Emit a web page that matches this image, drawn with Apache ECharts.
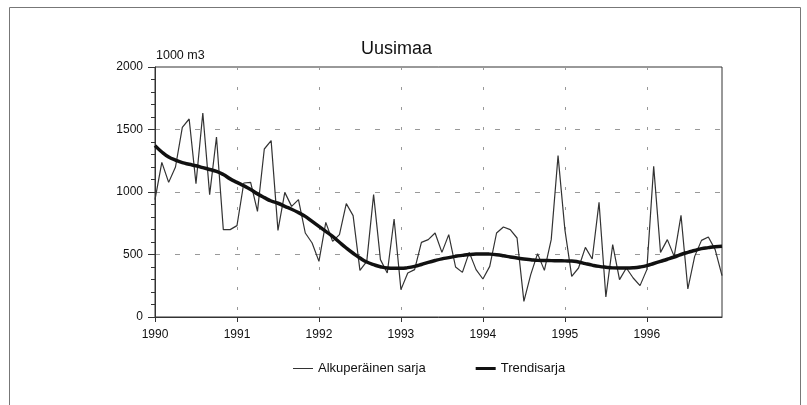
<!DOCTYPE html>
<html>
<head>
<meta charset="utf-8">
<script src="https://cdn.jsdelivr.net/npm/echarts@6/dist/echarts.min.js"></script>
<style>
  html, body { margin: 0; padding: 0; background: #fff; }
  #main { width: 807px; height: 405px; }
</style>
</head>
<body>
<div id="main"></div>
<script>
// vuodet ja kuukaudet
var years = ['1990', '1991', '1992', '1993', '1994', '1995', '1996'];
var months = ['01', '02', '03', '04', '05', '06', '07', '08', '09', '10', '11', '12'];

// Alkuperäinen sarja (1000 m3), kuukausittain 1990-1996
var original = [
  939, 1237, 1077, 1200, 1517, 1584, 1067, 1632, 979, 1440, 699, 699,
  731, 1072, 1077, 845, 1344, 1411, 693, 997, 885, 939, 672, 592,
  445, 757, 605, 659, 907, 811, 373, 445, 979, 459, 352, 784,
  219, 352, 379, 597, 619, 672, 517, 659, 400, 357, 517, 379,
  304, 405, 672, 720, 699, 632, 125, 339, 507, 373, 619, 1291,
  699, 325, 392, 557, 464, 917, 160, 579, 299, 392, 312, 251,
  379, 1205, 517, 619, 485, 813, 224, 485, 613, 640, 539, 331
];

// Trendisarja
var trend = [
  1371, 1320, 1280, 1255, 1235, 1222, 1210, 1195, 1180, 1165, 1140, 1105,
  1077, 1050, 1020, 985, 955, 928, 910, 885, 862, 835, 805, 765,
  725, 685, 645, 598, 552, 510, 472, 440, 419, 402, 392, 390,
  390, 395, 405, 420, 437, 452, 465, 475, 485, 493, 500, 504,
  505, 503, 498, 490, 480, 472, 464, 458, 453, 452, 451, 450,
  449, 448, 440, 427, 415, 405, 398, 393, 392, 392, 394, 400,
  411, 428, 445, 462, 480, 500, 517, 532, 547, 555, 562, 566
];

var categories = [];
years.forEach(function (y) {
  months.forEach(function (m) { categories.push(y + '-' + m); });
});

var font = 'Liberation Sans, Arial, sans-serif';
var chart = echarts.init(document.getElementById('main'), null, { renderer: 'canvas' });

chart.setOption({
  backgroundColor: '#fff',
  animation: false,
  title: {
    text: 'Uusimaa',
    left: 356,
    top: 35,
    textStyle: { fontFamily: font, fontSize: 18, fontWeight: 'normal', color: '#111' }
  },
  legend: {
    left: 288,
    top: 357,
    itemGap: 50,
    itemWidth: 20,
    itemHeight: 10,
    textStyle: { fontFamily: font, fontSize: 13, color: '#111' },
    data: [
      { name: 'Alkuperäinen sarja', icon: 'path://M0,4.5 L20,4.5 L20,5.5 L0,5.5 Z', itemStyle: { color: '#333' } },
      { name: 'Trendisarja', icon: 'path://M0,3.5 L20,3.5 L20,6.5 L0,6.5 Z', itemStyle: { color: '#111' } }
    ]
  },
  grid: {
    left: 155,
    right: 85,
    top: 67,
    bottom: 88,
    show: true,
    borderColor: '#333',
    borderWidth: 1
  },
  graphic: [
    {
      type: 'rect',
      silent: true,
      shape: { x: 9.5, y: 7.5, width: 791, height: 420 },
      style: { fill: 'none', stroke: '#777', lineWidth: 1 }
    }
  ],
  xAxis: {
    type: 'category',
    boundaryGap: false,
    data: categories,
    axisLine: { lineStyle: { color: '#333', width: 1 } },
    axisTick: { interval: 11, length: 5, lineStyle: { color: '#333' } },
    axisLabel: {
      interval: 11,
      margin: 12,
      fontFamily: font,
      fontSize: 12,
      color: '#111',
      formatter: function (v) { return v.slice(0, 4); }
    },
    splitLine: {
      show: true,
      interval: 11,
      lineStyle: { color: '#999', type: [3, 17], width: 1 }
    }
  },
  yAxis: {
    type: 'value',
    min: 0,
    max: 2000,
    interval: 500,
    name: '1000 m3',
    nameLocation: 'end',
    nameGap: 5,
    nameTextStyle: { fontFamily: font, fontSize: 12.5, color: '#111', align: 'left', padding: [0, 0, 0, 1] },
    axisLine: { show: true, lineStyle: { color: '#333', width: 1 } },
    axisTick: { show: true, length: 7, lineStyle: { color: '#333' } },
    minorTick: { show: true, splitNumber: 5, length: 4, lineStyle: { color: '#333' } },
    axisLabel: {
      margin: 12,
      fontFamily: font,
      fontSize: 12,
      color: '#111',
      formatter: function (v) { return String(v); }
    },
    splitLine: { show: true, lineStyle: { color: '#999', type: [5, 15], width: 1 } }
  },
  series: [
    {
      name: 'Alkuperäinen sarja',
      type: 'line',
      data: original,
      symbol: 'none',
      lineStyle: { color: '#333', width: 1.2 },
      itemStyle: { color: '#333' },
      z: 2
    },
    {
      name: 'Trendisarja',
      type: 'line',
      data: trend,
      symbol: 'none',
      smooth: true,
      lineStyle: { color: '#111', width: 3.5 },
      itemStyle: { color: '#111' },
      z: 3
    }
  ]
});
</script>
</body>
</html>
